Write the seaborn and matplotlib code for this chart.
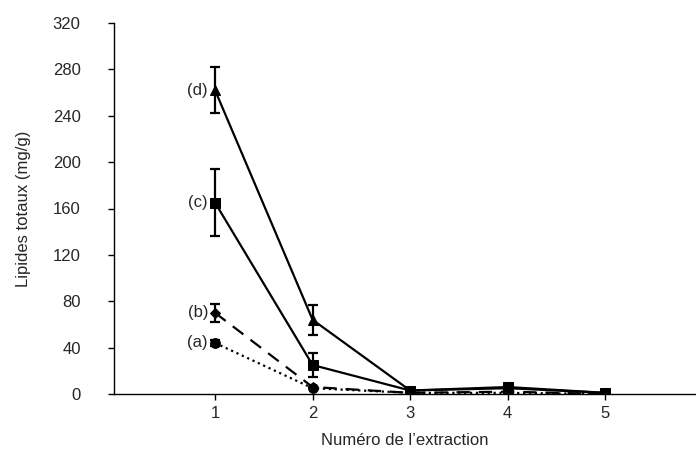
import seaborn as sns
import pandas as pd
import numpy as np
import matplotlib.pyplot as plt

# data
extraction = [1, 2, 3, 4, 5]
serie_a = [44, 5, 1, 1, 0]
serie_b = [70, 6, 1, 2, 0]
serie_c = [165, 25, 3, 6, 1]
serie_d = [262, 64, 3, 5, 1]
err_a = [3, 0, 0, 0, 0]
err_b = [8, 0, 0, 0, 0]
err_c = [29, 10, 0, 0, 0]
err_d = [20, 13, 0, 0, 0]
labels = ["(a)", "(b)", "(c)", "(d)"]

sns.set_theme(style="ticks")
plt.rcParams['font.family'] = ['Liberation Sans', 'DejaVu Sans']

fig = plt.figure(figsize=(6.96, 4.63), dpi=100)
ax = fig.add_axes([114/696, 1-394/463, (696-114)/696, (394-23)/463])

series = [
    (serie_a, err_a, 'o', ':'),
    (serie_b, err_b, 'D', (0, (6, 4))),
    (serie_c, err_c, 's', '-'),
    (serie_d, err_d, '^', '-'),
]
for (vals, errs, mk, ls), lab in zip(series, labels):
    df = pd.DataFrame({"x": extraction, "y": vals})
    ms = 5 if mk == 'D' else 7
    sns.lineplot(data=df, x="x", y="y", ax=ax, color="black", linestyle=ls,
                 marker=mk, markersize=ms, markeredgecolor="black", linewidth=1.6)
    ax.errorbar(extraction, vals, yerr=errs, fmt='none', ecolor="black",
                elinewidth=1.6, capsize=3.5, capthick=1.6)
    ax.annotate(lab, (extraction[0], vals[0]), xytext=(-5, 0),
                textcoords="offset points", ha="right", va="center", fontsize=12)

ax.set_xlim(-0.036, 5.93)
ax.set_ylim(0, 320)
ax.set_xticks(extraction)
ax.set_yticks(np.arange(0, 321, 40))
ax.tick_params(labelsize=12, length=4, width=1, color="black")
ax.tick_params(axis="y", pad=20)
ax.tick_params(axis="x", pad=5)
ax.set_xlabel("Numéro de l’extraction", fontsize=12, labelpad=8)
ax.set_ylabel("Lipides totaux (mg/g)", fontsize=12, labelpad=16)
for s in ["top", "right"]:
    ax.spines[s].set_visible(False)
for s in ["left", "bottom"]:
    ax.spines[s].set_color("black")
    ax.spines[s].set_linewidth(1)

fig.savefig("out.png", dpi=100)
